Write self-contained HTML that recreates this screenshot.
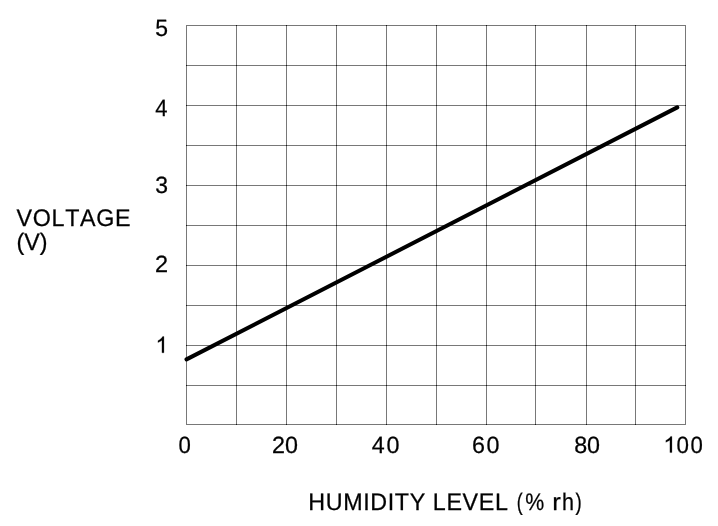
<!DOCTYPE html>
<html><head><meta charset="utf-8"><title>Voltage vs Humidity</title>
<style>
html,body{margin:0;padding:0;background:#fff;}
body{width:718px;height:526px;overflow:hidden;}
svg{display:block;}
text{font-family:"Liberation Sans",sans-serif;font-size:23.3px;fill:#000;stroke:#000;stroke-width:0.25px;font-kerning:none;text-rendering:geometricPrecision;white-space:pre;}
.t{opacity:0.999;}
</style></head><body>
<svg width="718" height="526" viewBox="0 0 718 526">
<rect width="718" height="526" fill="#fff"/>
<g shape-rendering="crispEdges">
<rect x="186" y="25" width="1" height="400" fill="rgba(0,0,0,0.53)"/>
<rect x="236" y="25" width="1" height="400" fill="rgba(0,0,0,0.53)"/>
<rect x="286" y="25" width="1" height="400" fill="rgba(0,0,0,0.53)"/>
<rect x="336" y="25" width="1" height="400" fill="rgba(0,0,0,0.53)"/>
<rect x="386" y="25" width="1" height="400" fill="rgba(0,0,0,0.53)"/>
<rect x="436" y="25" width="1" height="400" fill="rgba(0,0,0,0.53)"/>
<rect x="486" y="25" width="1" height="400" fill="rgba(0,0,0,0.53)"/>
<rect x="535" y="25" width="1" height="400" fill="rgba(0,0,0,0.53)"/>
<rect x="586" y="25" width="1" height="400" fill="rgba(0,0,0,0.53)"/>
<rect x="635" y="25" width="1" height="400" fill="rgba(0,0,0,0.53)"/>
<rect x="685" y="25" width="1" height="400" fill="rgba(0,0,0,0.53)"/>
<rect x="187" y="25" width="498" height="1" fill="rgba(0,0,0,0.53)"/>
<rect x="186" y="65" width="500" height="1" fill="rgba(0,0,0,0.53)"/>
<rect x="186" y="105" width="500" height="1" fill="rgba(0,0,0,0.53)"/>
<rect x="186" y="145" width="500" height="1" fill="rgba(0,0,0,0.53)"/>
<rect x="186" y="185" width="500" height="1" fill="rgba(0,0,0,0.53)"/>
<rect x="186" y="225" width="500" height="1" fill="rgba(0,0,0,0.53)"/>
<rect x="186" y="265" width="500" height="1" fill="rgba(0,0,0,0.53)"/>
<rect x="186" y="305" width="500" height="1" fill="rgba(0,0,0,0.53)"/>
<rect x="186" y="345" width="500" height="1" fill="rgba(0,0,0,0.53)"/>
<rect x="186" y="385" width="500" height="1" fill="rgba(0,0,0,0.53)"/>
<rect x="187" y="424" width="498" height="1" fill="rgba(0,0,0,0.53)"/>
<rect x="186" y="65" width="1" height="1" fill="rgba(0,0,0,0.6)"/>
<rect x="186" y="105" width="1" height="1" fill="rgba(0,0,0,0.6)"/>
<rect x="186" y="145" width="1" height="1" fill="rgba(0,0,0,0.6)"/>
<rect x="186" y="185" width="1" height="1" fill="rgba(0,0,0,0.6)"/>
<rect x="186" y="225" width="1" height="1" fill="rgba(0,0,0,0.6)"/>
<rect x="186" y="265" width="1" height="1" fill="rgba(0,0,0,0.6)"/>
<rect x="186" y="305" width="1" height="1" fill="rgba(0,0,0,0.6)"/>
<rect x="186" y="345" width="1" height="1" fill="rgba(0,0,0,0.6)"/>
<rect x="186" y="385" width="1" height="1" fill="rgba(0,0,0,0.6)"/>
<rect x="236" y="25" width="1" height="1" fill="rgba(0,0,0,0.6)"/>
<rect x="236" y="65" width="1" height="1" fill="rgba(0,0,0,0.6)"/>
<rect x="236" y="105" width="1" height="1" fill="rgba(0,0,0,0.6)"/>
<rect x="236" y="145" width="1" height="1" fill="rgba(0,0,0,0.6)"/>
<rect x="236" y="185" width="1" height="1" fill="rgba(0,0,0,0.6)"/>
<rect x="236" y="225" width="1" height="1" fill="rgba(0,0,0,0.6)"/>
<rect x="236" y="265" width="1" height="1" fill="rgba(0,0,0,0.6)"/>
<rect x="236" y="305" width="1" height="1" fill="rgba(0,0,0,0.6)"/>
<rect x="236" y="345" width="1" height="1" fill="rgba(0,0,0,0.6)"/>
<rect x="236" y="385" width="1" height="1" fill="rgba(0,0,0,0.6)"/>
<rect x="236" y="424" width="1" height="1" fill="rgba(0,0,0,0.6)"/>
<rect x="286" y="25" width="1" height="1" fill="rgba(0,0,0,0.6)"/>
<rect x="286" y="65" width="1" height="1" fill="rgba(0,0,0,0.6)"/>
<rect x="286" y="105" width="1" height="1" fill="rgba(0,0,0,0.6)"/>
<rect x="286" y="145" width="1" height="1" fill="rgba(0,0,0,0.6)"/>
<rect x="286" y="185" width="1" height="1" fill="rgba(0,0,0,0.6)"/>
<rect x="286" y="225" width="1" height="1" fill="rgba(0,0,0,0.6)"/>
<rect x="286" y="265" width="1" height="1" fill="rgba(0,0,0,0.6)"/>
<rect x="286" y="305" width="1" height="1" fill="rgba(0,0,0,0.6)"/>
<rect x="286" y="345" width="1" height="1" fill="rgba(0,0,0,0.6)"/>
<rect x="286" y="385" width="1" height="1" fill="rgba(0,0,0,0.6)"/>
<rect x="286" y="424" width="1" height="1" fill="rgba(0,0,0,0.6)"/>
<rect x="336" y="25" width="1" height="1" fill="rgba(0,0,0,0.6)"/>
<rect x="336" y="65" width="1" height="1" fill="rgba(0,0,0,0.6)"/>
<rect x="336" y="105" width="1" height="1" fill="rgba(0,0,0,0.6)"/>
<rect x="336" y="145" width="1" height="1" fill="rgba(0,0,0,0.6)"/>
<rect x="336" y="185" width="1" height="1" fill="rgba(0,0,0,0.6)"/>
<rect x="336" y="225" width="1" height="1" fill="rgba(0,0,0,0.6)"/>
<rect x="336" y="265" width="1" height="1" fill="rgba(0,0,0,0.6)"/>
<rect x="336" y="305" width="1" height="1" fill="rgba(0,0,0,0.6)"/>
<rect x="336" y="345" width="1" height="1" fill="rgba(0,0,0,0.6)"/>
<rect x="336" y="385" width="1" height="1" fill="rgba(0,0,0,0.6)"/>
<rect x="336" y="424" width="1" height="1" fill="rgba(0,0,0,0.6)"/>
<rect x="386" y="25" width="1" height="1" fill="rgba(0,0,0,0.6)"/>
<rect x="386" y="65" width="1" height="1" fill="rgba(0,0,0,0.6)"/>
<rect x="386" y="105" width="1" height="1" fill="rgba(0,0,0,0.6)"/>
<rect x="386" y="145" width="1" height="1" fill="rgba(0,0,0,0.6)"/>
<rect x="386" y="185" width="1" height="1" fill="rgba(0,0,0,0.6)"/>
<rect x="386" y="225" width="1" height="1" fill="rgba(0,0,0,0.6)"/>
<rect x="386" y="265" width="1" height="1" fill="rgba(0,0,0,0.6)"/>
<rect x="386" y="305" width="1" height="1" fill="rgba(0,0,0,0.6)"/>
<rect x="386" y="345" width="1" height="1" fill="rgba(0,0,0,0.6)"/>
<rect x="386" y="385" width="1" height="1" fill="rgba(0,0,0,0.6)"/>
<rect x="386" y="424" width="1" height="1" fill="rgba(0,0,0,0.6)"/>
<rect x="436" y="25" width="1" height="1" fill="rgba(0,0,0,0.6)"/>
<rect x="436" y="65" width="1" height="1" fill="rgba(0,0,0,0.6)"/>
<rect x="436" y="105" width="1" height="1" fill="rgba(0,0,0,0.6)"/>
<rect x="436" y="145" width="1" height="1" fill="rgba(0,0,0,0.6)"/>
<rect x="436" y="185" width="1" height="1" fill="rgba(0,0,0,0.6)"/>
<rect x="436" y="225" width="1" height="1" fill="rgba(0,0,0,0.6)"/>
<rect x="436" y="265" width="1" height="1" fill="rgba(0,0,0,0.6)"/>
<rect x="436" y="305" width="1" height="1" fill="rgba(0,0,0,0.6)"/>
<rect x="436" y="345" width="1" height="1" fill="rgba(0,0,0,0.6)"/>
<rect x="436" y="385" width="1" height="1" fill="rgba(0,0,0,0.6)"/>
<rect x="436" y="424" width="1" height="1" fill="rgba(0,0,0,0.6)"/>
<rect x="486" y="25" width="1" height="1" fill="rgba(0,0,0,0.6)"/>
<rect x="486" y="65" width="1" height="1" fill="rgba(0,0,0,0.6)"/>
<rect x="486" y="105" width="1" height="1" fill="rgba(0,0,0,0.6)"/>
<rect x="486" y="145" width="1" height="1" fill="rgba(0,0,0,0.6)"/>
<rect x="486" y="185" width="1" height="1" fill="rgba(0,0,0,0.6)"/>
<rect x="486" y="225" width="1" height="1" fill="rgba(0,0,0,0.6)"/>
<rect x="486" y="265" width="1" height="1" fill="rgba(0,0,0,0.6)"/>
<rect x="486" y="305" width="1" height="1" fill="rgba(0,0,0,0.6)"/>
<rect x="486" y="345" width="1" height="1" fill="rgba(0,0,0,0.6)"/>
<rect x="486" y="385" width="1" height="1" fill="rgba(0,0,0,0.6)"/>
<rect x="486" y="424" width="1" height="1" fill="rgba(0,0,0,0.6)"/>
<rect x="535" y="25" width="1" height="1" fill="rgba(0,0,0,0.6)"/>
<rect x="535" y="65" width="1" height="1" fill="rgba(0,0,0,0.6)"/>
<rect x="535" y="105" width="1" height="1" fill="rgba(0,0,0,0.6)"/>
<rect x="535" y="145" width="1" height="1" fill="rgba(0,0,0,0.6)"/>
<rect x="535" y="185" width="1" height="1" fill="rgba(0,0,0,0.6)"/>
<rect x="535" y="225" width="1" height="1" fill="rgba(0,0,0,0.6)"/>
<rect x="535" y="265" width="1" height="1" fill="rgba(0,0,0,0.6)"/>
<rect x="535" y="305" width="1" height="1" fill="rgba(0,0,0,0.6)"/>
<rect x="535" y="345" width="1" height="1" fill="rgba(0,0,0,0.6)"/>
<rect x="535" y="385" width="1" height="1" fill="rgba(0,0,0,0.6)"/>
<rect x="535" y="424" width="1" height="1" fill="rgba(0,0,0,0.6)"/>
<rect x="586" y="25" width="1" height="1" fill="rgba(0,0,0,0.6)"/>
<rect x="586" y="65" width="1" height="1" fill="rgba(0,0,0,0.6)"/>
<rect x="586" y="105" width="1" height="1" fill="rgba(0,0,0,0.6)"/>
<rect x="586" y="145" width="1" height="1" fill="rgba(0,0,0,0.6)"/>
<rect x="586" y="185" width="1" height="1" fill="rgba(0,0,0,0.6)"/>
<rect x="586" y="225" width="1" height="1" fill="rgba(0,0,0,0.6)"/>
<rect x="586" y="265" width="1" height="1" fill="rgba(0,0,0,0.6)"/>
<rect x="586" y="305" width="1" height="1" fill="rgba(0,0,0,0.6)"/>
<rect x="586" y="345" width="1" height="1" fill="rgba(0,0,0,0.6)"/>
<rect x="586" y="385" width="1" height="1" fill="rgba(0,0,0,0.6)"/>
<rect x="586" y="424" width="1" height="1" fill="rgba(0,0,0,0.6)"/>
<rect x="635" y="25" width="1" height="1" fill="rgba(0,0,0,0.6)"/>
<rect x="635" y="65" width="1" height="1" fill="rgba(0,0,0,0.6)"/>
<rect x="635" y="105" width="1" height="1" fill="rgba(0,0,0,0.6)"/>
<rect x="635" y="145" width="1" height="1" fill="rgba(0,0,0,0.6)"/>
<rect x="635" y="185" width="1" height="1" fill="rgba(0,0,0,0.6)"/>
<rect x="635" y="225" width="1" height="1" fill="rgba(0,0,0,0.6)"/>
<rect x="635" y="265" width="1" height="1" fill="rgba(0,0,0,0.6)"/>
<rect x="635" y="305" width="1" height="1" fill="rgba(0,0,0,0.6)"/>
<rect x="635" y="345" width="1" height="1" fill="rgba(0,0,0,0.6)"/>
<rect x="635" y="385" width="1" height="1" fill="rgba(0,0,0,0.6)"/>
<rect x="635" y="424" width="1" height="1" fill="rgba(0,0,0,0.6)"/>
<rect x="685" y="65" width="1" height="1" fill="rgba(0,0,0,0.6)"/>
<rect x="685" y="105" width="1" height="1" fill="rgba(0,0,0,0.6)"/>
<rect x="685" y="145" width="1" height="1" fill="rgba(0,0,0,0.6)"/>
<rect x="685" y="185" width="1" height="1" fill="rgba(0,0,0,0.6)"/>
<rect x="685" y="225" width="1" height="1" fill="rgba(0,0,0,0.6)"/>
<rect x="685" y="265" width="1" height="1" fill="rgba(0,0,0,0.6)"/>
<rect x="685" y="305" width="1" height="1" fill="rgba(0,0,0,0.6)"/>
<rect x="685" y="345" width="1" height="1" fill="rgba(0,0,0,0.6)"/>
<rect x="685" y="385" width="1" height="1" fill="rgba(0,0,0,0.6)"/>
</g>
<line x1="186.5" y1="359.4" x2="677.3" y2="107.4" stroke="#000" stroke-width="4.0" stroke-linecap="round"/>
<g class="t">
<text transform="translate(155.33,35.6) scale(0.9867,1.012)">5</text>
<text transform="translate(155.14,115.8) scale(0.9454,1.012)">4</text>
<text transform="translate(155.37,193.2) scale(0.9867,1.012)">3</text>
<text transform="translate(155.07,271.7) scale(1.0080,1.012)">2</text>
<path d="M763 0 L583 0 L583 1147 Q518 1085 412 1023 Q307 961 223 930 L223 1104 Q374 1175 487 1276 Q600 1377 647 1472 L763 1472 Z" transform="translate(155.47,352.8) scale(0.011111,-0.011021)" fill="#000" stroke="#000" stroke-width="22.5"/>
<text transform="translate(178.58,452.6) scale(0.9517,1.012)">0</text>
<text transform="translate(271.98,452.6) scale(1,1.012)" style="letter-spacing:-0.035px">20</text>
<text transform="translate(371.82,452.6) scale(1,1.012)" style="letter-spacing:1.628px">40</text>
<text transform="translate(471.97,452.6) scale(1,1.012)" style="letter-spacing:1.477px">60</text>
<text transform="translate(574.34,452.6) scale(1,1.012)" style="letter-spacing:-0.294px">80</text>
<path d="M763 0 L583 0 L583 1147 Q518 1085 412 1023 Q307 961 223 930 L223 1104 Q374 1175 487 1276 Q600 1377 647 1472 L763 1472 Z" transform="translate(663.33,452.6) scale(0.011296,-0.011021)" fill="#000" stroke="#000" stroke-width="22.1"/>
<text transform="translate(676.38,452.6) scale(0.9607,1.012)">0</text>
<text transform="translate(690.58,452.6) scale(0.9517,1.012)">0</text>
<text transform="translate(16.55,225.5) scale(1,1.028)" style="letter-spacing:0.657px">VOLTAGE</text>
<text transform="translate(16.41,250.3) scale(1,1.028)" style="letter-spacing:0.015px">(V)</text>
<text transform="translate(308.30,509.7) scale(1,1.028)" style="letter-spacing:0.612px">HUMIDITY LEVEL</text>
<text transform="translate(516.75,509.7) scale(0.7608,1.028)">(</text>
<text transform="translate(525.19,509.7) scale(0.9157,1.028)">%</text>
<text transform="translate(552.29,509.7) scale(1.1073,1.028)">r</text>
<text transform="translate(561.95,509.7) scale(0.9258,1.028)">h</text>
<text transform="translate(575.44,509.7) scale(0.8029,1.028)">)</text>
</g>
</svg>
</body></html>
